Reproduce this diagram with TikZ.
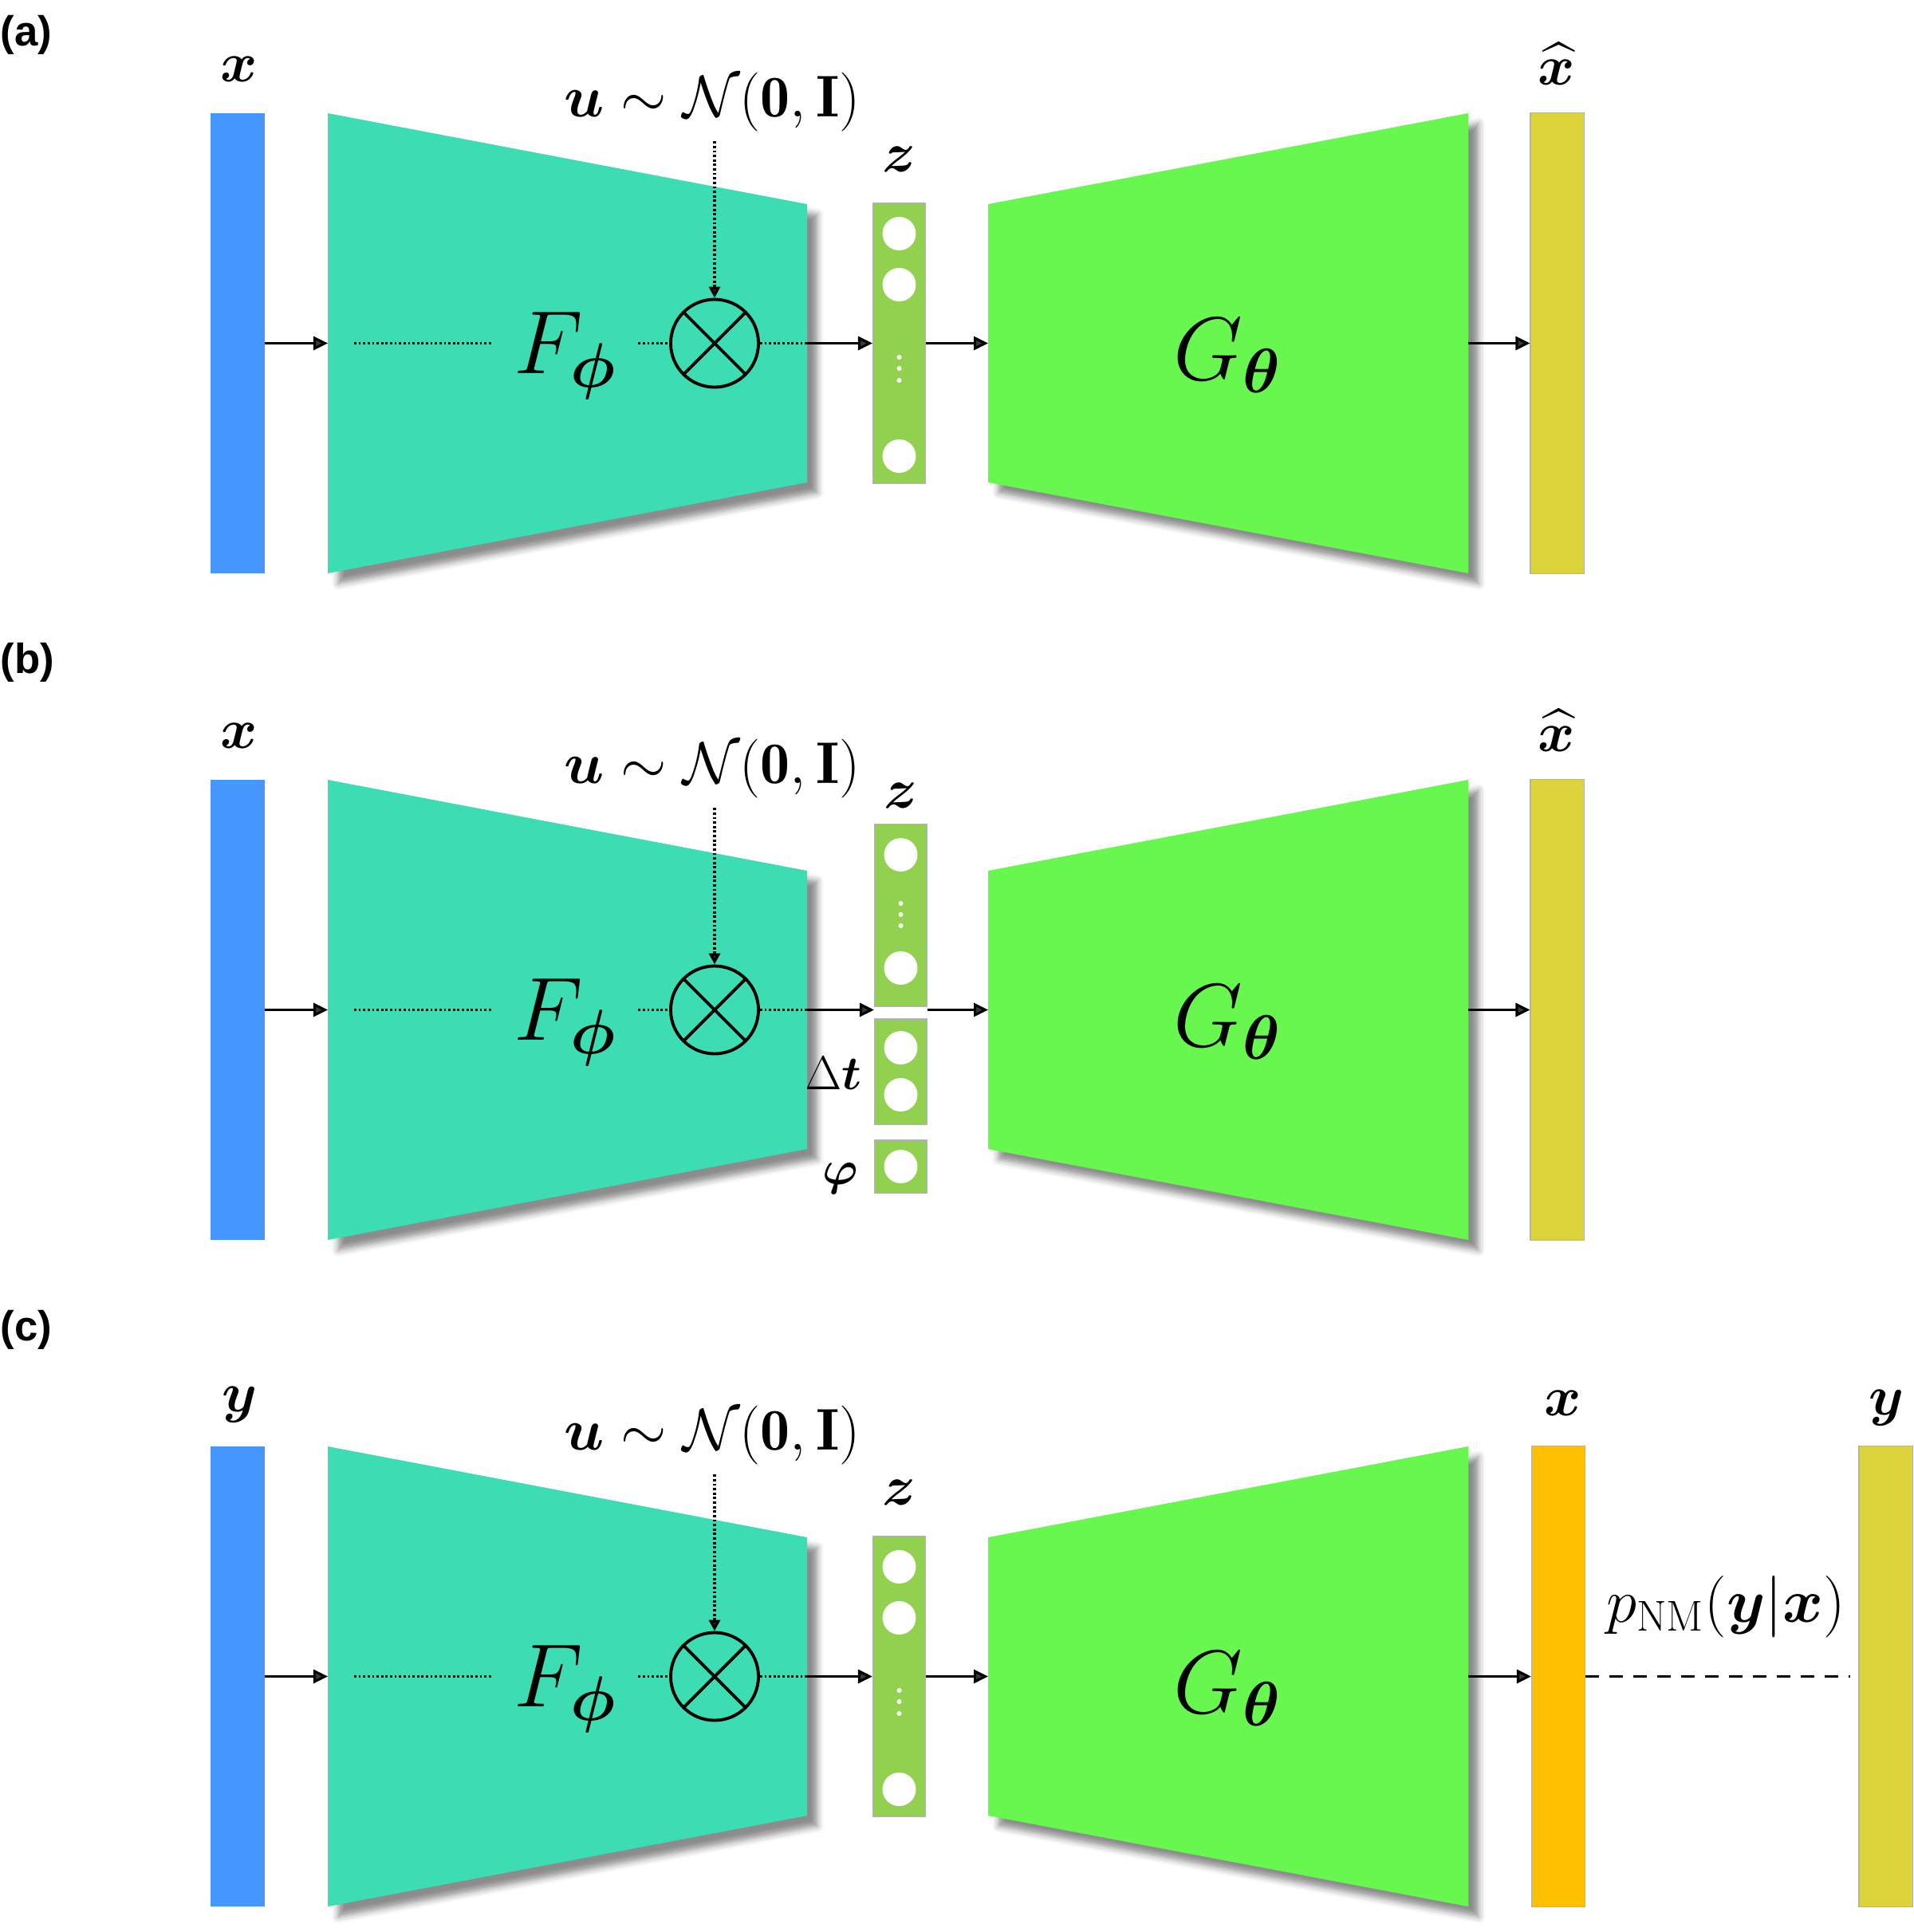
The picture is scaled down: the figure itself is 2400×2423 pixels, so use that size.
\RequirePackage{fix-cm}
\documentclass[tikz,border=0pt]{standalone}
\usepackage{amsmath}
\usepackage{bm}
\usepackage{fontspec}
\newfontfamily\panelfont{Liberation Sans}
\usetikzlibrary{arrows.meta}
\usetikzlibrary{shadows.blur}
\definecolor{inblue}{RGB}{69,150,255}
\definecolor{enccyan}{RGB}{61,221,179}
\definecolor{decgreen}{RGB}{104,247,78}
\definecolor{latgreen}{RGB}{146,208,80}
\definecolor{outyellow}{RGB}{221,211,58}
\definecolor{midorange}{RGB}{255,192,0}

\begin{document}
\begin{tikzpicture}[x=0.01cm, y=-0.01cm,
        bar/.style = {rectangle, inner sep=0, minimum width=0.67cm, minimum height=5.77cm},
        lat/.style = {rectangle, inner sep=0, draw=black!30, line width=0.3pt, fill=latgreen, minimum width=0.66cm},
        lbl/.style = {font=\fontsize{20}{24}\selectfont},
        big/.style = {font=\fontsize{32}{38}\selectfont, inner sep=0.26cm},
        tag/.style = {font={\fontsize{15}{18}\panelfont\bfseries}, anchor=west, inner sep=0},
        flow/.style = {line width=0.9pt, -{Triangle[length=0.18cm, width=0.17cm]}},
        dots/.style = {line width=1.1pt, dash pattern=on 0.8pt off 0.8pt},
        trap/.style = {blur shadow={shadow xshift=0.13cm, shadow yshift=-0.13cm, shadow blur radius=0.08cm, shadow opacity=45}},
        mult/.style = {circle, draw, line width=1.1pt, minimum size=1.1cm, inner sep=0,
            path picture={\draw[line width=1.1pt] (path picture bounding box.north west) -- (path picture bounding box.south east)
                (path picture bounding box.north east) -- (path picture bounding box.south west);}}]
    \useasboundingbox (0,0) rectangle (2400,2423);

    \node[tag] (taga) at (0,44) {(a)};
    \node[tag] (tagb) at (0,831) {(b)};
    \node[tag] (tagc) at (0,1668) {(c)};

    % latent vectors
    \foreach \p/\dy in {a/0, c/1672} {
        \node[lat, minimum height=3.51cm] (z\p) at (1127.5, 430.5+\dy) {};
        \foreach \cy in {293, 357, 572}
            \fill[white] (1127.5, \cy+\dy) circle (21);
        \foreach \cy in {448, 462, 477}
            \fill[white] (1127.5, \cy+\dy) circle (3);
        \node[lbl] (zlabel\p) at (1127.5, 200+\dy) {$\bm{z}$};
    }
    \node[lat, minimum height=2.28cm] (zb) at (1129.5, 1148) {};
    \node[lat, minimum height=1.32cm] (dtb) at (1129.5, 1344) {};
    \node[lat, minimum height=0.66cm] (phib) at (1129.5, 1463) {};
    \foreach \cy in {1072, 1214, 1314, 1373, 1463}
        \fill[white] (1129.5, \cy) circle (21);
    \foreach \cy in {1133, 1147, 1161}
        \fill[white] (1129.5, \cy) circle (3);
    \node[lbl] (zlabelb) at (1129.5, 998) {$\bm{z}$};
    \node[font=\fontsize{17}{20}\selectfont] (dtlabel) at (1045, 1346) {$\Delta\bm{t}$};
    \node[font=\fontsize{17}{20}\selectfont] (philabel) at (1054, 1478) {$\bm{\varphi}$};

    % outputs
    \node[bar, fill=outyellow, draw=black!30, line width=0.3pt] (outa) at (1952.5, 430.5) {};
    \node[bar, fill=outyellow, draw=black!30, line width=0.3pt] (outb) at (1952.5, 1266.5) {};
    \node[bar, fill=midorange, draw=black!30, line width=0.3pt] (outc) at (1954, 2102.5) {};
    \node[bar, fill=outyellow, draw=black!30, line width=0.3pt] (noisyc) at (2364.5, 2102.5) {};
    \node[lbl] (xhata) at (1952, 80) {$\widehat{\bm{x}}$};
    \node[lbl] (xhatb) at (1952, 916) {$\widehat{\bm{x}}$};
    \node[lbl] (xlabelc) at (1960, 1760) {$\bm{x}$};
    \node[lbl] (ylabelc) at (2366, 1766) {$\bm{y}$};
    \node[font=\fontsize{22}{26}\selectfont] (pnm) at (2164, 2015) {$p_{\mathrm{NM}}(\bm{y}|\bm{x})$};
    \draw[line width=0.9pt, dash pattern=on 0.17cm off 0.13cm, shorten >=0.1cm] (outc) -- (noisyc);

    \node[lbl] (inlabela) at (300, 87) {$\bm{x}$};
    \node[lbl] (inlabelb) at (300, 923) {$\bm{x}$};
    \node[lbl] (inlabelc) at (301, 1762) {$\bm{y}$};

    \foreach \p/\dy in {a/0, b/836, c/1672} {
        \node[bar, fill=inblue] (in\p) at (298, 430.5+\dy) {};
        \coordinate (encL\p) at (411, 430.5+\dy);
        \coordinate (encR\p) at (1012, 430.5+\dy);
        \coordinate (decL\p) at (1239, 430.5+\dy);
        \coordinate (decR\p) at (1841, 430.5+\dy);
        \fill[enccyan, trap] (411, 142+\dy) -- (1012, 256+\dy) -- (1012, 605+\dy) -- (411, 719+\dy) -- cycle;
        \fill[decgreen, trap] (1239, 256+\dy) -- (1841, 142+\dy) -- (1841, 719+\dy) -- (1239, 605+\dy) -- cycle;
        \node[big] (fphi\p) at (709, 446+\dy) {$F_{\bm{\phi}}$};
        \node[big] (gtheta\p) at (1539, 446+\dy) {$G_{\bm{\theta}}$};
        \node[mult] (mul\p) at (896, 430.5+\dy) {};
        \node[font=\fontsize{21}{25}\selectfont] (noise\p) at (893, 128+\dy) {$\bm{u} \sim \mathcal{N}(\mathbf{0},\mathbf{I})$};
        \draw[flow] (in\p) -- (encL\p);
        \draw[dots] ([xshift=0.33cm]encL\p) -- (encL\p -| fphi\p.west);
        \draw[dots] (fphi\p.east |- mul\p) -- (mul\p);
        \draw[dots] (mul\p) -- (encR\p);
        \draw[dots, -{Triangle[length=0.14cm, width=0.14cm]}] (noise\p.south -| mul\p) -- (mul\p);
        \draw[flow] (encR\p) -- (encR\p -| z\p.west);
        \draw[flow] (z\p.east |- decL\p) -- (decL\p);
        \draw[flow] (decR\p) -- (out\p);
    }
\end{tikzpicture}
\end{document}
